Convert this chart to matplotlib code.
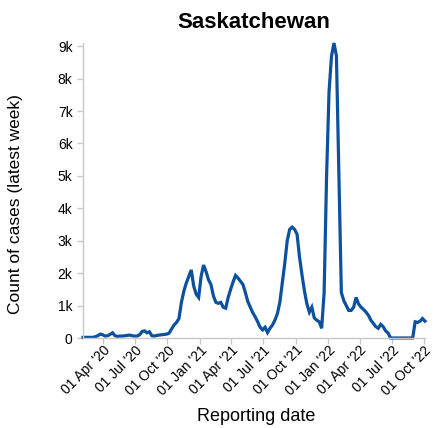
import matplotlib
matplotlib.use("Agg")
import matplotlib.pyplot as plt
import matplotlib.transforms as mtransforms
import pandas as pd

plt.rcParams['font.family'] = ['Liberation Sans', 'DejaVu Sans']

title = "Saskatchewan"
x_label = "Reporting date"
y_label = "Count of cases (latest week)"

start_date = "2020-02-04"
cases = [
    20, 20, 20, 20, 20, 40, 70, 120, 100, 60,
    70, 110, 160, 70, 50, 60, 60, 70, 80, 90,
    70, 60, 60, 100, 200, 220, 160, 190, 70, 60,
    80, 90, 100, 110, 120, 150, 280, 400, 480, 600,
    1100, 1450, 1700, 1900, 2100, 1600, 1350, 1250, 1900, 2250,
    2050, 1800, 1650, 1300, 1100, 1070, 1100, 950, 920, 1250,
    1500, 1730, 1930, 1850, 1750, 1650, 1400, 1120, 950, 780,
    650, 500, 330, 250, 330, 170, 300, 400, 550, 750,
    1100, 1700, 2300, 3000, 3350, 3420, 3350, 3200, 2500, 1950,
    1450, 1050, 800, 950, 620, 550, 500, 300, 1400, 5000,
    7600, 8700, 9100, 8700, 5000, 1400, 1150, 1000, 850, 850,
    950, 1250, 1050, 950, 880, 800, 700, 550, 450, 350,
    300, 420, 350, 220, 150, 0, 0, 0, 0, 0,
    0, 0, 0, 0, 0, 500, 480, 520, 600, 520,
]
dates = pd.date_range(start_date, periods=len(cases), freq="7D")

x_ticks = pd.to_datetime(["2020-04-01", "2020-07-01", "2020-10-01", "2021-01-01",
                          "2021-04-01", "2021-07-01", "2021-10-01", "2022-01-01",
                          "2022-04-01", "2022-07-01", "2022-10-01"])
x_tick_labels = ["01 Apr '20", "01 Jul '20", "01 Oct '20", "01 Jan '21",
                 "01 Apr '21", "01 Jul '21", "01 Oct '21", "01 Jan '22",
                 "01 Apr '22", "01 Jul '22", "01 Oct '22"]
y_ticks = [0, 1000, 2000, 3000, 4000, 5000, 6000, 7000, 8000, 9000]
y_tick_labels = ["0", "1k", "2k", "3k", "4k", "5k", "6k", "7k", "8k", "9k"]

W, H = 435, 428
fig = plt.figure(figsize=(W / 100, H / 100), dpi=100)
ax = fig.add_axes([83 / W, 90 / H, (425 - 83) / W, (385 - 90) / H])

ax.plot(dates, cases, color="#0b519e", linewidth=2.3, solid_joinstyle="miter",
        clip_on=False)

ax.set_xlim(dates[0], dates[-1])
ax.set_ylim(0, 9100)

for s in ["top", "right"]:
    ax.spines[s].set_visible(False)
for s in ["left", "bottom"]:
    ax.spines[s].set_color("#c8c8c8")
    ax.spines[s].set_linewidth(1)
ax.tick_params(axis="both", colors="#c8c8c8", labelcolor="black", length=4.3,
               width=1, labelsize=10)
ax.tick_params(axis="y", pad=3.2)
ax.tick_params(axis="x", pad=3)

ax.set_yticks(y_ticks)
ax.set_yticklabels(y_tick_labels)
ax.set_xticks(x_ticks)
ax.set_xticklabels(x_tick_labels, rotation=45, ha="right",
                   va="center", rotation_mode="anchor")
offset = mtransforms.ScaledTranslation(5 / 100, 0, fig.dpi_scale_trans)
for lab in ax.get_xticklabels():
    lab.set_transform(lab.get_transform() + offset)

fig.text(254 / W, 1 - 28 / H, title, fontsize=16, fontweight="bold",
         ha="center", va="baseline")
fig.text(256 / W, 1 - 421 / H, x_label, fontsize=13, ha="center",
         va="baseline")
fig.text(16 / W, 1 - 204 / H, y_label, fontsize=12.5, rotation=90,
         ha="center", va="center")

fig.savefig("out.png", dpi=100)
